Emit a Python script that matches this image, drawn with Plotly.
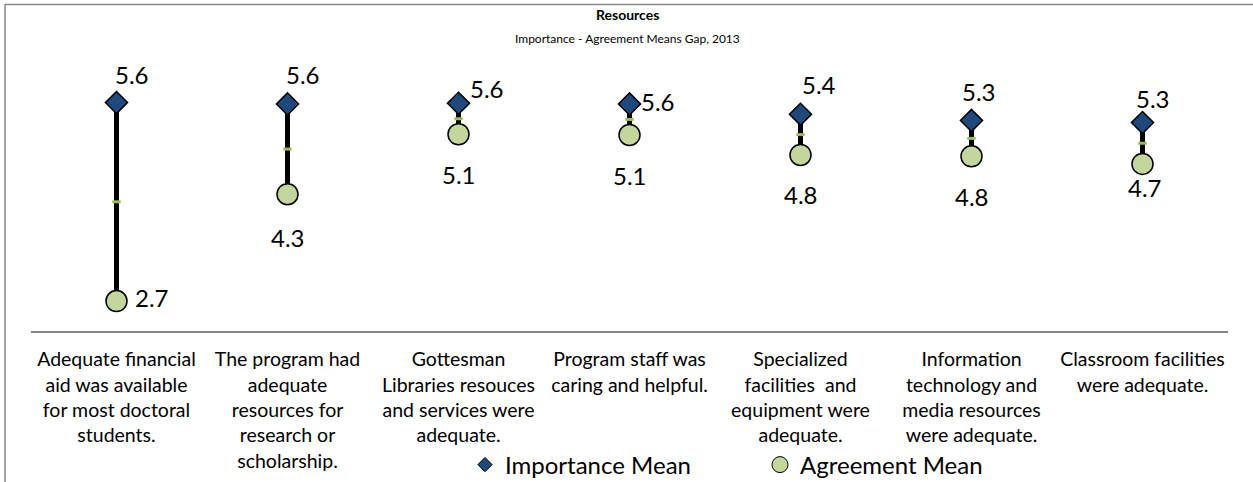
import plotly.graph_objects as go

# Survey items (category labels, wrapped as displayed)
categories = [
    "Adequate financial<br>aid was available<br>for most doctoral<br>students.",
    "The program had<br>adequate<br>resources for<br>research or<br>scholarship.",
    "Gottesman<br>Libraries resouces<br>and services were<br>adequate.",
    "Program staff was<br>caring and helpful.",
    "Specialized<br>facilities  and<br>equipment were<br>adequate.",
    "Information<br>technology and<br>media resources<br>were adequate.",
    "Classroom facilities<br>were adequate.",
]
importance_mean = [5.60, 5.58, 5.59, 5.58, 5.43, 5.34, 5.31]
agreement_mean = [2.72, 4.27, 5.14, 5.13, 4.84, 4.82, 4.71]

# Label offsets (pixels) for the value labels
imp_label_shift = [(15, 28), (15, 29), (28, 15), (28, 2), (18, 30), (7, 29), (10, 24)]
agr_label_shift = [(35, 4), (0, -43), (0, -40), (0, -41), (0, -40), (0, -40), (2, -24)]

W, H = 1253, 482
ML, MR, MT, MB = 31, 25, 75, 151
PW, PH = W - ML - MR, H - MT - MB


def xp(px):
    return (px - ML) / PW


def yp(py):
    return (H - MB - py) / PH


FONT = "Lato, 'Open Sans', sans-serif"
NAVY = "#1F497D"
SAGE = "#C3D69B"
LEAF = "#9BBB59"
GREY = "#868686"

xs = list(range(len(categories)))

fig = go.Figure()

# Gap bars between the two means
gx, gy = [], []
for i in xs:
    gx += [i, i, None]
    gy += [importance_mean[i], agreement_mean[i], None]
fig.add_trace(go.Scatter(x=gx, y=gy, mode="lines",
                         line=dict(color="black", width=5),
                         showlegend=False, hoverinfo="skip"))

# Midpoint tick of each gap
mid = [(a + b) / 2 for a, b in zip(importance_mean, agreement_mean)]
fig.add_trace(go.Scatter(x=xs, y=mid, mode="markers",
                         marker=dict(symbol="line-ew", size=6,
                                     line=dict(color=LEAF, width=3)),
                         showlegend=False, hoverinfo="skip"))

fig.add_trace(go.Scatter(x=xs, y=importance_mean, mode="markers",
                         name="Importance Mean", showlegend=False,
                         marker=dict(symbol="diamond", size=17, color=NAVY,
                                     line=dict(color="black", width=1.5))))
fig.add_trace(go.Scatter(x=xs, y=agreement_mean, mode="markers",
                         name="Agreement Mean", showlegend=False,
                         marker=dict(symbol="circle", size=21, color=SAGE,
                                     line=dict(color="black", width=1.5))))

# Legend entries
fig.add_trace(go.Scatter(x=[None], y=[None], mode="markers", name="Importance Mean",
                         marker=dict(symbol="diamond", size=11, color=NAVY,
                                     line=dict(color="black", width=1))))
fig.add_trace(go.Scatter(x=[None], y=[None], mode="markers", name="Agreement Mean",
                         marker=dict(symbol="circle", size=16, color=SAGE,
                                     line=dict(color="black", width=1))))

annotations = []
for i in xs:
    dx, dy = imp_label_shift[i]
    annotations.append(dict(x=i, y=importance_mean[i], xref="x", yref="y",
                            text=f"{importance_mean[i]:.1f}", showarrow=False,
                            xshift=dx, yshift=dy,
                            font=dict(family=FONT, size=24, color="black")))
    dx, dy = agr_label_shift[i]
    annotations.append(dict(x=i, y=agreement_mean[i], xref="x", yref="y",
                            text=f"{agreement_mean[i]:.1f}", showarrow=False,
                            xshift=dx, yshift=dy,
                            font=dict(family=FONT, size=24, color="black")))

annotations.append(dict(x=xp(627), y=yp(14), xref="paper", yref="paper",
                        text="<b>Resources</b>", showarrow=False,
                        xanchor="center", yanchor="middle",
                        font=dict(family=FONT, size=14, color="black")))
annotations.append(dict(x=xp(627), y=yp(38), xref="paper", yref="paper",
                        text="Importance - Agreement Means Gap, 2013", showarrow=False,
                        xanchor="center", yanchor="middle",
                        font=dict(family=FONT, size=12, color="black")))

shapes = [
    dict(type="line", xref="paper", yref="paper", x0=xp(5), x1=xp(W + 5),
         y0=yp(4.5), y1=yp(4.5), line=dict(color=GREY, width=1.5)),
    dict(type="line", xref="paper", yref="paper", x0=xp(5), x1=xp(5),
         y0=yp(4.5), y1=yp(H + 5), line=dict(color=GREY, width=1.5)),
]

fig.update_layout(
    width=W, height=H,
    margin=dict(l=ML, r=MR, t=MT, b=MB, autoexpand=False),
    paper_bgcolor="white", plot_bgcolor="white",
    font=dict(family=FONT, color="black"),
    xaxis=dict(range=[-0.5, len(categories) - 0.5], tickvals=xs, ticktext=categories,
               showline=True, linecolor=GREY, linewidth=2, ticks="",
               showgrid=False, zeroline=False, ticklabelstandoff=10, automargin=False,
               tickfont=dict(family=FONT, size=19.5, color="black")),
    yaxis=dict(range=[2.285, 6.0], visible=False, showgrid=False, zeroline=False,
               automargin=False),
    showlegend=True,
    legend=dict(orientation="h", xref="container", yref="container",
                x=465 / W, y=1 - 465 / H, xanchor="left", yanchor="middle",
                font=dict(family=FONT, size=24, color="black"),
                entrywidth=250, entrywidthmode="pixels",
                bgcolor="rgba(0,0,0,0)"),
    annotations=annotations,
    shapes=shapes,
    hovermode=False,
)

fig.write_html("out.html")
